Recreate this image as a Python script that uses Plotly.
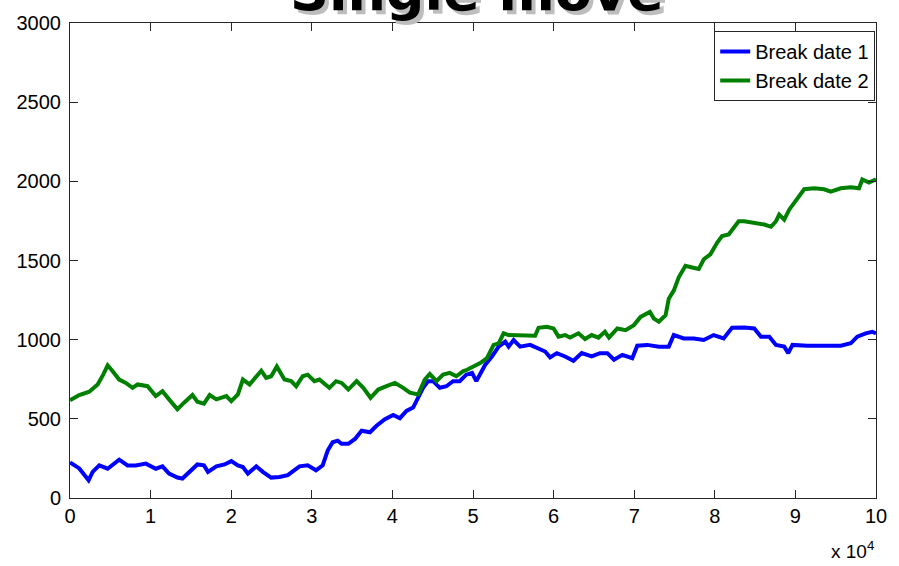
import plotly.graph_objects as go

# Break date 1 (blue)
x1 = [0, 1150, 2310, 2810, 3630, 4670, 6100, 7140, 8170, 9410, 10640, 11470, 12290, 13330, 13950,
      14770, 15800, 16620, 17120, 18160, 19180, 20010, 20830, 21450, 22070, 23110, 23920, 24960,
      25990, 27020, 27640, 28470, 29490, 30530, 31350, 31970, 32590, 33210, 33700, 34530, 35360,
      36180, 37220, 38030, 39070, 40100, 40930, 41740, 42570, 43190, 43810, 44430, 45050, 45880,
      46700, 47520, 48350, 49170, 49880, 50410, 50900, 51520, 52350, 53180, 54000, 54420, 55040,
      55850, 57090, 58130, 58950, 59570, 60400, 61420, 62460, 63490, 64730, 65750, 66670, 67490,
      68530, 69760, 70380, 71620, 73060, 74290, 74910, 76150, 77390, 78630, 79860, 81100, 82140,
      83660, 84900, 85730, 86760, 87590, 88610, 89110, 89640, 91500, 93560, 95630, 96870, 97680,
      98720, 99540, 100000]
y1 = [225, 187, 112, 165, 206, 185, 242, 206, 206, 217, 185, 200, 154, 129, 123,
      165, 212, 206, 165, 200, 212, 233, 206, 196, 154, 200, 165, 129,
      133, 144, 165, 200, 206, 175, 206, 300, 352, 362, 342, 342, 373,
      425, 415, 456, 498, 525, 504, 550, 571, 633, 696, 738, 738, 696,
      706, 738, 738, 779, 790, 738, 790, 842, 894, 956, 988, 956, 998,
      956, 967, 946, 925, 888, 915, 894, 867, 915, 894, 915, 915, 873,
      904, 883, 962, 967, 956, 956, 1029, 1008, 1008, 998, 1029, 1008, 1075,
      1077, 1071, 1019, 1019, 967, 956, 915, 967, 962, 962, 962, 977, 1019,
      1040, 1050, 1040]

# Break date 2 (green)
x2 = [0, 1150, 2390, 3430, 4120, 4670, 5290, 6100, 6930, 7760, 8380, 9620, 10640, 11470, 12290,
      13330, 14150, 15190, 15800, 16620, 17330, 18160, 19390, 20010, 20830, 21450, 22280, 22900,
      23730, 24340, 24960, 25660, 26610, 27440, 28060, 28870, 29490, 30320, 30940, 32180, 33010,
      33700, 34530, 35560, 36390, 37290, 38240, 39270, 40310, 41340, 42170, 43190, 44020, 44640,
      45460, 46290, 47120, 47930, 48760, 49260, 50090, 50900, 51730, 52560, 53180, 53800, 54420,
      55440, 56680, 57710, 58130, 59160, 59990, 60610, 61420, 62040, 63080, 63900, 64730, 65560,
      66370, 66870, 67910, 68930, 69960, 70790, 71940, 72440, 73060, 73890, 74290, 74910, 75530,
      76360, 77190, 78010, 78630, 79450, 80280, 80900, 81720, 82340, 82960, 83660, 84900, 86140,
      86970, 87590, 87990, 88610, 89230, 89850, 90470, 91090, 92330, 93560, 94390, 95630, 96870,
      97890, 98300, 99130, 100000]
y2 = [617, 650, 671, 717, 779, 838, 800, 748, 727, 696, 717, 706, 644, 675, 623,
      560, 602, 650, 608, 596, 650, 623, 644, 612, 654, 748, 717, 758,
      804, 758, 769, 831, 748, 738, 706, 769, 779, 738, 748, 696, 738,
      727, 685, 738, 696, 633, 685, 706, 727, 696, 665, 654, 748, 783,
      738, 779, 790, 769, 800, 810, 831, 852, 883, 967, 977, 1040, 1029,
      1029, 1029, 1025, 1075, 1081, 1071, 1019, 1029, 1013, 1040, 1004, 1029, 1013,
      1050, 1013, 1071, 1060, 1092, 1144, 1175, 1133, 1113, 1154, 1258, 1310, 1394,
      1467, 1456, 1446, 1508, 1539, 1612, 1654, 1665, 1706, 1748, 1748, 1737, 1727,
      1713, 1748, 1790, 1758, 1821, 1862, 1904, 1950, 1956, 1950, 1935, 1956, 1962,
      1956, 2012, 1992, 2012]

x_tickvals = [0, 10000, 20000, 30000, 40000, 50000, 60000, 70000, 80000, 90000, 100000]
x_ticktext = ["0", "1", "2", "3", "4", "5", "6", "7", "8", "9", "10"]
y_tickvals = [0, 500, 1000, 1500, 2000, 2500, 3000]

FONT = "Liberation Sans Narrow, Arial Narrow, Liberation Sans, Arial, sans-serif"

fig = go.Figure()
fig.add_trace(go.Scatter(x=x1, y=y1, mode="lines", name="Break date 1",
                         line=dict(color="#0000ff", width=4)))
fig.add_trace(go.Scatter(x=x2, y=y2, mode="lines", name="Break date 2",
                         line=dict(color="#008000", width=4)))

axis_common = dict(showline=True, linecolor="#262626", linewidth=1, mirror="ticks",
                   ticks="inside", ticklen=8, tickcolor="#262626", showgrid=False,
                   zeroline=False, tickfont=dict(family=FONT, size=20, color="#000000"))

fig.update_xaxes(range=[0, 100000], tickvals=x_tickvals, ticktext=x_ticktext, **axis_common)
fig.update_yaxes(range=[0, 3000], tickvals=y_tickvals, ticklabelstandoff=4, **axis_common)

title = "Single move"
for dx, dy, col in [(4, -4, "#bdbdbd"), (0, 0, "#000000")]:
    fig.add_annotation(text=title, xref="paper", yref="paper", x=0.505, y=1.0,
                       xanchor="center", yanchor="bottom", xshift=dx, yshift=dy - 2,
                       showarrow=False,
                       font=dict(family="DejaVu Sans, sans-serif", size=54,
                                 color=col, weight="bold"))

fig.add_annotation(text="x 10<sup>4</sup>", xref="paper", yref="paper", x=1.0, y=0,
                   xanchor="right", yanchor="top", yshift=-38, showarrow=False,
                   font=dict(family=FONT, size=19, color="#000000"))

fig.update_layout(
    width=899, height=566,
    margin=dict(l=70, r=21, t=18, b=68),
    plot_bgcolor="white", paper_bgcolor="white",
    showlegend=True,
    legend=dict(x=0.999, y=0.983, xanchor="right", yanchor="top",
                bgcolor="white", bordercolor="#262626", borderwidth=1,
                font=dict(family=FONT, size=20, color="#000000"),
                tracegroupgap=0, itemwidth=30),
)

fig.write_html("out.html", config={"displayModeBar": False},
               post_script="document.body.style.margin='0px';")
